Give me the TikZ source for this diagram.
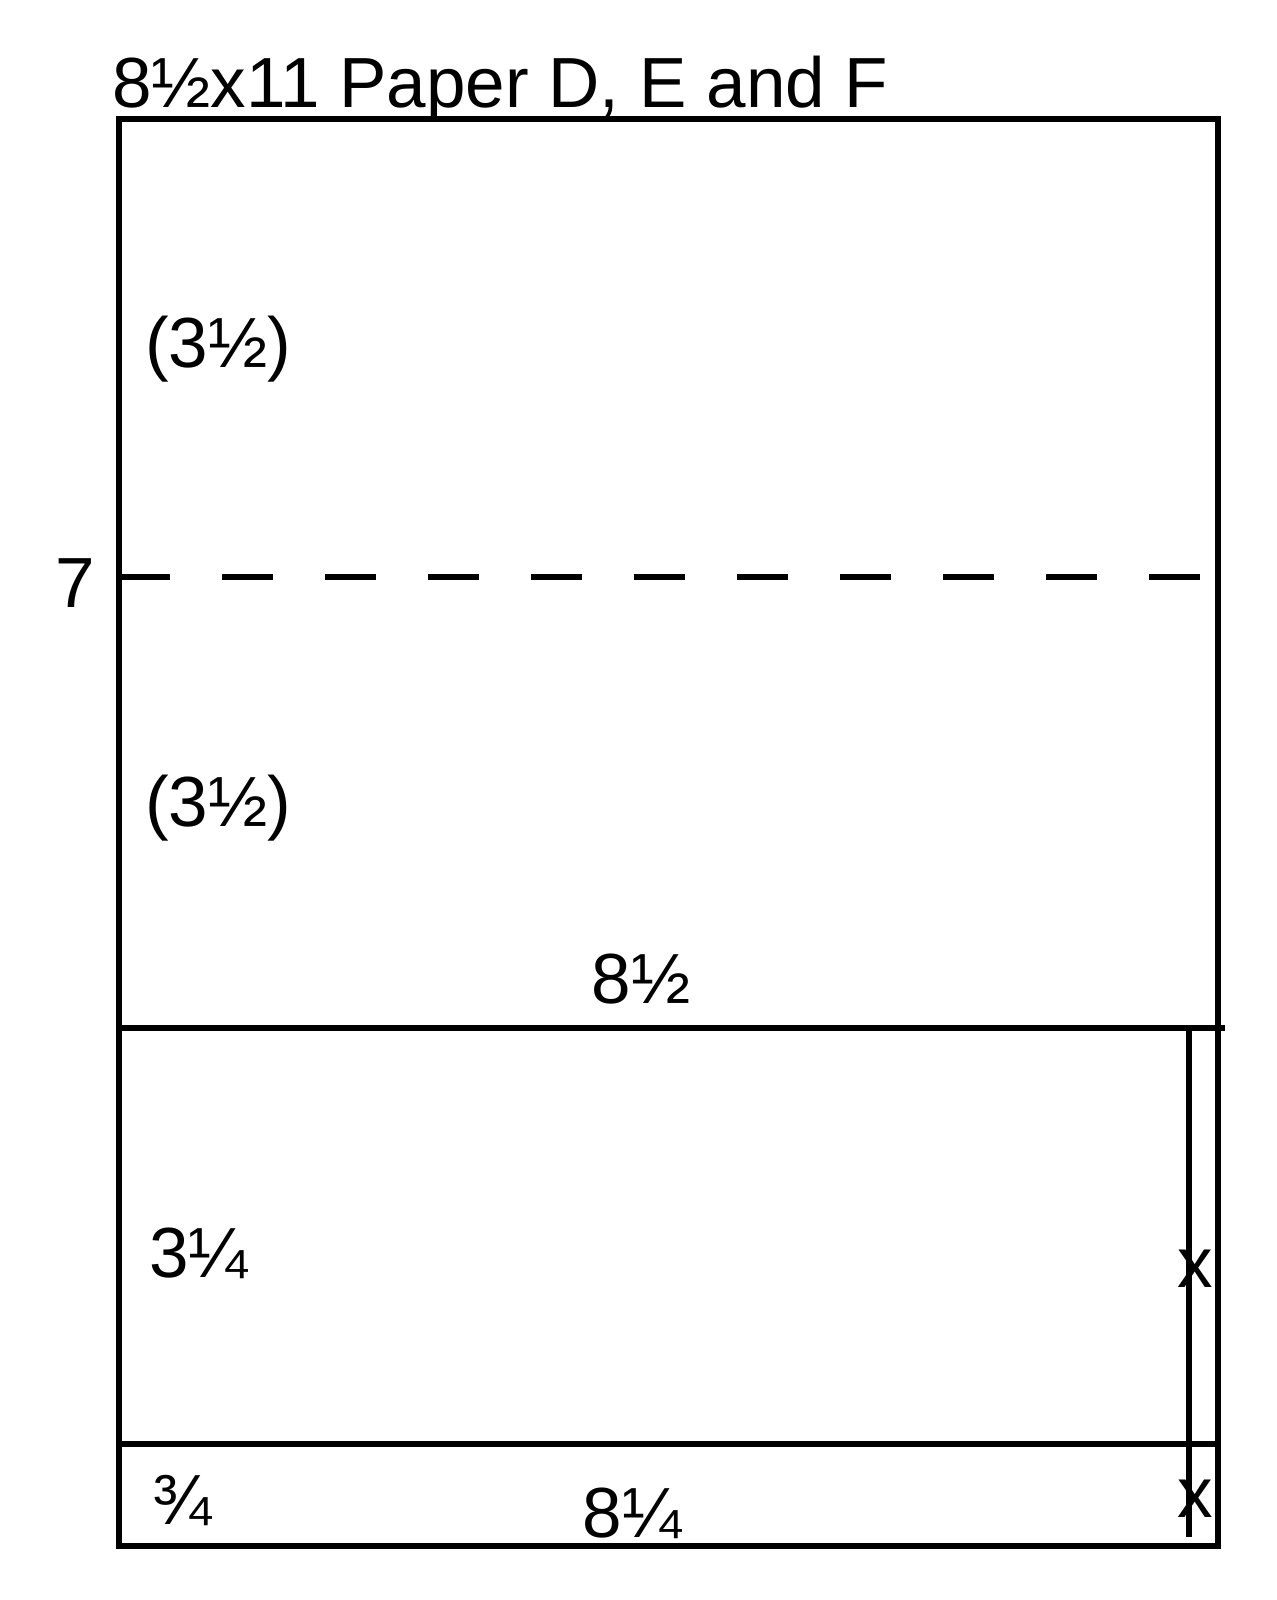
\documentclass[tikz,border=0pt]{standalone}
\usepackage{fontspec}
\setmainfont{Liberation Sans}
\begin{document}
\begin{tikzpicture}[x=0.5pt,y=-0.5pt,
  frame/.style={line width=2.6pt},
  fold/.style={line width=2.6pt, dash pattern=on 25.5pt off 26pt},
  lbl/.style={inner sep=0pt, outer sep=0pt, font=\fontsize{35.5}{42}\selectfont}]
\useasboundingbox (0,0) rectangle (1277,1600);
\fill[white] (0,0) rectangle (1277,1600);
% corners and points
\coordinate (tl) at (119,119);
\coordinate (br) at (1218,1546);
\coordinate (dashL) at (119,577);
\coordinate (dashR) at (1200,577);
\coordinate (midL) at (119,1028);
\coordinate (midR) at (1225,1028);
\coordinate (lowL) at (119,1444);
\coordinate (lowR) at (1218,1444);
\coordinate (vTop) at (1189,1031);
\coordinate (vBot) at (1189,1537);
% drawing
\draw[frame] (tl) rectangle (br);
\draw[fold] (dashL) -- (dashR);
\draw[frame] (midL) -- (midR);
\draw[frame] (lowL) -- (lowR);
\draw[frame] (vTop) -- (vBot);
% texts
\node[lbl, anchor=base west] (title) at (112,108) {8½x11 Paper D, E and F};
\node[lbl, anchor=base west] (a1) at (145,367) {(3½)};
\node[lbl, anchor=base west] (a2) at (145,826) {(3½)};
\node[lbl, anchor=base west] (seven) at (55,607) {7};
\node[lbl, anchor=base] (w1) at (641,1003) {8½};
\node[lbl, anchor=base west] (h1) at (149,1277) {3¼};
\node[lbl, anchor=base] (x1) at (1195,1287) {x};
\node[lbl, anchor=base] (x2) at (1195,1517) {x};
\node[lbl, anchor=base west] (h2) at (152,1524) {¾};
\node[lbl, anchor=base] (w2) at (632,1537) {8¼};
\end{tikzpicture}
\end{document}
